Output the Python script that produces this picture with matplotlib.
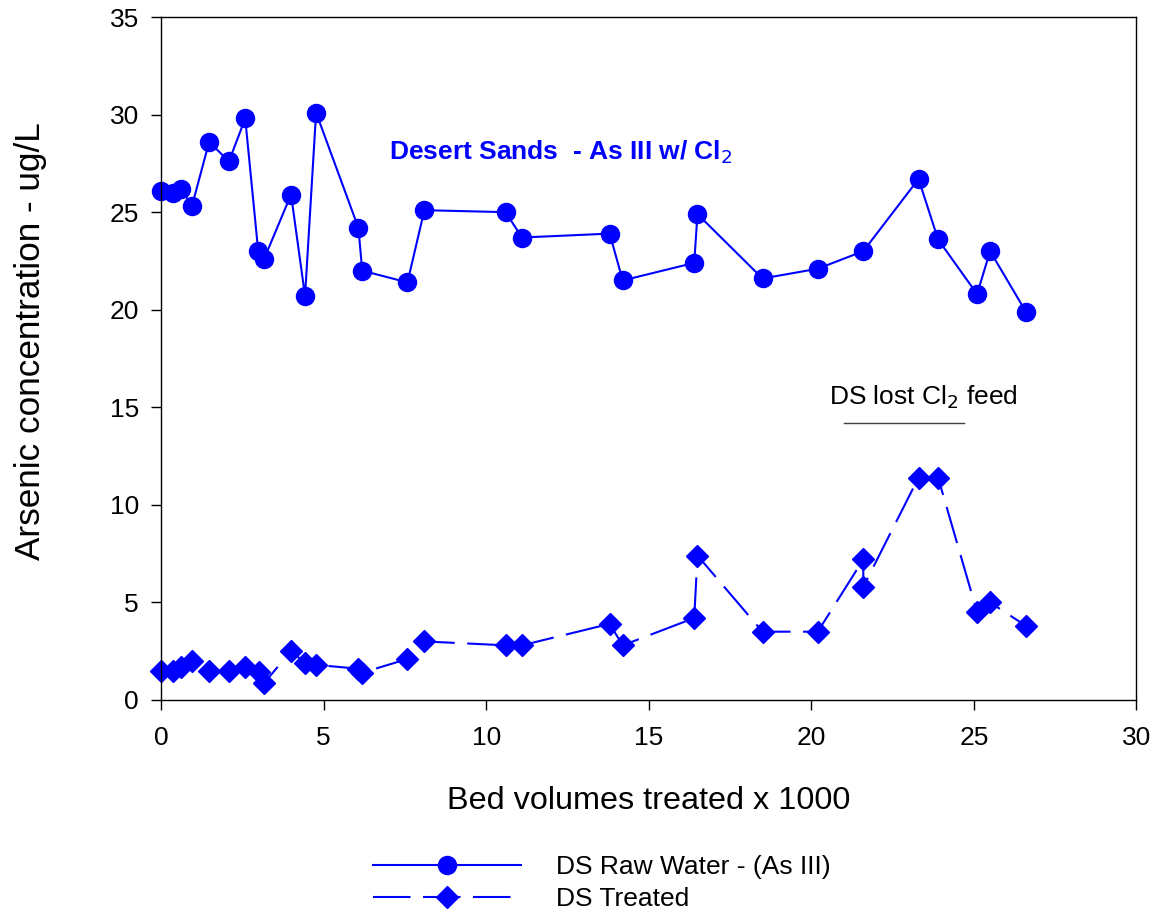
import matplotlib
matplotlib.use('Agg')
from matplotlib import pyplot as plt

plt.rcParams['font.family'] = ['Liberation Sans', 'DejaVu Sans']

# bed volumes treated (x 1000)
raw_bv = [0, 0.37, 0.62, 0.95, 1.48, 2.09, 2.59, 2.99, 3.17, 4.0, 4.43, 4.77,
          6.07, 6.19, 7.58, 8.1, 10.6, 11.1, 13.8, 14.2, 16.4, 16.5, 18.5,
          20.2, 21.6, 23.3, 23.9, 25.1, 25.5, 26.6]
raw_as = [26.1, 26.0, 26.2, 25.3, 28.6, 27.6, 29.8, 23.0, 22.6, 25.9, 20.7, 30.1,
          24.2, 22.0, 21.4, 25.1, 25.0, 23.7, 23.9, 21.5, 22.4, 24.9, 21.6,
          22.1, 23.0, 26.7, 23.6, 20.8, 23.0, 19.9]

treated_bv = [0, 0.37, 0.62, 0.95, 1.48, 2.09, 2.59, 3.0, 3.17, 4.0, 4.43, 4.77,
              6.07, 6.19, 7.58, 8.1, 10.6, 11.1, 13.8, 14.2, 16.4, 16.5, 18.5,
              20.2, 21.6, 21.6, 23.3, 23.9, 25.1, 25.5, 26.6]
treated_as = [1.5, 1.5, 1.7, 2.0, 1.5, 1.5, 1.7, 1.45, 0.87, 2.5, 1.9, 1.8,
              1.6, 1.4, 2.1, 3.0, 2.8, 2.8, 3.9, 2.8, 4.2, 7.4, 3.5,
              3.5, 7.2, 5.8, 11.4, 11.4, 4.5, 5.0, 3.8]

lost_cl2 = [21.0, 24.7]

fig = plt.figure(figsize=(11.55, 9.10), dpi=100)
ax = fig.add_axes([0.1394, 0.2308, 0.8445, 0.7505])

ax.plot(raw_bv, raw_as, color='#0000ff', lw=1.5, marker='o', markersize=13,
        label='DS Raw Water - (As III)', clip_on=False)
ax.plot(treated_bv, treated_as, color='#0000ff', lw=1.5, marker='D', markersize=11,
        dashes=(18, 6), label='DS Treated', clip_on=False)

ax.plot(lost_cl2, [14.2, 14.2], color='#404040', lw=1.0)
ax.text(23.45, 14.8, 'DS lost Cl$_2$ feed', fontsize=19, ha='center', va='bottom')
ax.text(7.0, 28.05, 'Desert Sands  - As III w/ Cl$_2$', fontsize=19, fontweight='bold',
        color='#0000ff', ha='left', va='center')

ax.set_xlim(0, 30)
ax.set_ylim(0, 35)
ax.set_xticks(range(0, 31, 5))
ax.set_yticks(range(0, 36, 5))
ax.tick_params(direction='out', length=7, width=1, labelsize=19)
ax.tick_params(axis='y', pad=9)
ax.tick_params(axis='x', pad=12)
for s in ax.spines.values():
    s.set_linewidth(1.0)

ax.set_xlabel('Bed volumes treated x 1000', fontsize=23.3)
ax.set_ylabel('Arsenic concentration - ug/L', fontsize=25.3)
ax.xaxis.set_label_coords(0.5, -0.126)
ax.yaxis.set_label_coords(-0.117, 0.526)

fig.legend(loc='center left', bbox_to_anchor=(373 / 1155, 1 - 883 / 910), frameon=False,
           fontsize=19, handlelength=5.6, handletextpad=1.35, borderpad=0,
           labelspacing=0.3, borderaxespad=0)

fig.savefig('out.png', dpi=100)
